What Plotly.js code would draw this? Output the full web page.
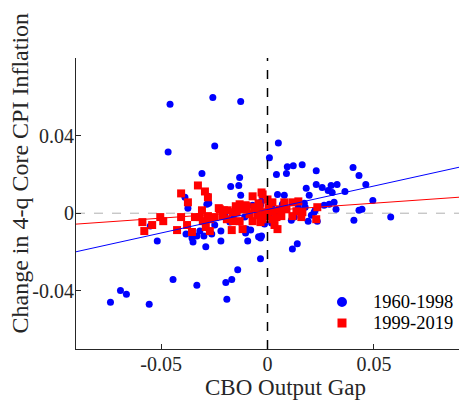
<!DOCTYPE html>
<html>
<head>
<meta charset="utf-8">
<script src="https://cdn.plot.ly/plotly-3.0.1.min.js"></script>
<style>html,body{margin:0;padding:0;background:#fff;}#chart{width:459px;height:400px;}</style>
</head>
<body>
<div id="chart"></div>
<script>
// 1960-1998: output gap (x) and change in 4-q core CPI inflation (y)
var gapEarly = [-0.0458,-0.0257,-0.0126,-0.0467,-0.0248,-0.0308,-0.0131,-0.0173,-0.0135,-0.0126,
  -0.0388,-0.0280,-0.0276,-0.0374,0.0009,0.0051,0.0042,0.0047,0.0093,0.0121,
  0.0163,0.0089,0.0229,0.0402,0.0430,0.0079,0.0182,0.0196,0.0229,0.0257,
  0.0299,0.0327,0.0285,0.0304,0.0364,0.0462,0.0495,0.0266,0.0290,0.0313,
  0.0322,0.0430,0.0444,0.0177,0.0206,0.0224,-0.0028,0.0406,0.0579,0.0117,
  0.0140,-0.0033,-0.0033,0.0191,0.0234,0.0112,0.0126,-0.0518,-0.0551,-0.0444,
  -0.0691,-0.0663,-0.0738,-0.0556,-0.0332,-0.0191,-0.0196,-0.0168,-0.0140,-0.0290,
  -0.0350,-0.0355,-0.0383,-0.0332,-0.0299,-0.0262,-0.0219,-0.0219,-0.0093,-0.0103,
  -0.0079,-0.0070,-0.0177,-0.0131,-0.0318,-0.0285,-0.0033,0.0042,-0.0098,-0.0042,
  -0.0163,0.0019,0.0145,0.0219,0.0019,0.0009,-0.0028,0.0173,-0.0201,-0.0107,
  0.0070,-0.0014,-0.0248];
var inflEarly = [0.0561,0.0597,0.0576,0.0316,0.0347,0.0204,0.0184,0.0138,0.0143,0.0092,
  0.0082,0.0087,0.0051,0.0026,0.0286,0.0362,0.0199,0.0097,0.0240,0.0245,
  0.0250,0.0204,0.0219,0.0235,0.0194,0.0092,0.0128,0.0092,0.0148,0.0133,
  0.0143,0.0148,0.0117,0.0107,0.0112,0.0148,0.0066,0.0041,0.0046,0.0056,
  0.0020,0.0015,0.0020,0.0031,-0.0010,0.0015,0.0061,-0.0036,-0.0020,-0.0184,
  -0.0158,-0.0235,-0.0128,-0.0041,-0.0041,-0.0036,-0.0020,-0.0143,-0.0066,-0.0342,
  -0.0398,-0.0418,-0.0459,-0.0469,-0.0372,-0.0444,-0.0357,-0.0342,-0.0291,-0.0173,
  -0.0148,-0.0128,-0.0107,-0.0117,-0.0117,-0.0107,-0.0092,-0.0143,-0.0143,-0.0102,
  -0.0087,0.0041,-0.0046,-0.0046,-0.0092,0.0046,0.0041,0.0000,-0.0082,-0.0122,
  -0.0031,0.0036,0.0031,0.0005,-0.0051,-0.0005,-0.0117,0.0051,-0.0005,-0.0020,
  0.0046,-0.0056,-0.0061];

// 1999-2019
var gapLate = [-0.0588,-0.0579,-0.0542,-0.0504,-0.0490,-0.0425,-0.0406,-0.0374,-0.0406,-0.0378,
  -0.0355,-0.0341,-0.0327,-0.0294,-0.0280,-0.0308,-0.0318,-0.0304,-0.0290,-0.0271,
  -0.0280,-0.0248,-0.0224,-0.0205,-0.0210,-0.0191,-0.0168,-0.0145,-0.0121,-0.0117,
  -0.0098,-0.0084,-0.0070,-0.0037,-0.0033,-0.0014,0.0023,0.0033,-0.0149,-0.0070,
  -0.0023,0.0000,0.0023,-0.0042,-0.0229,-0.0187,-0.0131,-0.0098,-0.0163,-0.0061,
  0.0023,0.0042,-0.0271,-0.0163,-0.0131,0.0047,0.0079,0.0117,0.0145,0.0234,
  0.0056,0.0089,0.0136,0.0164,0.0000,0.0065,0.0117,0.0159,0.0229,-0.0023,
  -0.0028,-0.0103,-0.0047,0.0005];
var inflLate = [-0.0046,-0.0092,-0.0061,-0.0020,-0.0041,-0.0087,0.0102,0.0056,-0.0020,-0.0061,
  -0.0097,-0.0020,0.0143,0.0112,0.0082,0.0015,-0.0020,-0.0041,-0.0071,-0.0092,
  -0.0015,-0.0020,0.0020,0.0015,-0.0015,-0.0031,-0.0087,0.0005,0.0020,-0.0082,
  0.0036,-0.0005,-0.0041,0.0031,-0.0046,0.0005,-0.0031,-0.0061,0.0036,0.0087,
  0.0097,0.0071,0.0056,0.0051,0.0026,0.0015,0.0046,0.0020,0.0005,0.0031,
  0.0010,-0.0020,-0.0031,-0.0041,-0.0041,-0.0082,0.0056,0.0056,0.0061,0.0031,
  0.0020,0.0020,0.0010,0.0005,-0.0015,-0.0015,-0.0015,-0.0020,-0.0031,-0.0031,
  0.0107,0.0041,-0.0010,0.0031];

// fitted lines: [intercept, slope]
var fitEarly = [0.0019, 0.242];
var fitLate = [0.0013, 0.077];

var seriesNames = ['1960-1998', '1999-2019'];
var xTitle = 'CBO Output Gap';
var yTitle = 'Change in 4-q Core CPI Inflation';
var xRange = [-0.09, 0.09];
var yRange = [-0.07, 0.08];
var xTicks = [-0.05, 0, 0.05];
var xTickText = ['-0.05', '0', '0.05'];
var yTicks = [-0.04, 0, 0.04];
var yTickText = ['-0.04', '0', '0.04'];

function fitLine(f, color, name) {
  return {
    x: xRange.slice(),
    y: xRange.map(function (v) { return f[0] + f[1] * v; }),
    mode: 'lines', type: 'scatter', showlegend: false, hoverinfo: 'skip', name: name,
    line: {color: color, width: 1}
  };
}

var font = "'Liberation Serif', 'Times New Roman', serif";
var axisColor = '#262626';
var blue = '#0000ff', red = '#ff0000';

var data = [
  {x: gapEarly, y: inflEarly, mode: 'markers', type: 'scatter', name: seriesNames[0], showlegend: false,
   marker: {color: blue, size: 7, symbol: 'circle'}},
  {x: gapLate, y: inflLate, mode: 'markers', type: 'scatter', name: seriesNames[1], showlegend: false,
   marker: {color: red, size: 8, symbol: 'square'}},
  fitLine(fitEarly, blue, 'fit ' + seriesNames[0]),
  fitLine(fitLate, red, 'fit ' + seriesNames[1])
];

// legend (drawn as key shapes + text annotations)
var legX = 0.6945, legTextX = 0.7702, legY = [0.1615, 0.0893];

var layout = {
  width: 459, height: 400,
  margin: {l: 76, r: 0, t: 58, b: 51, pad: 0},
  paper_bgcolor: '#fff', plot_bgcolor: '#fff',
  font: {family: font, size: 19, color: axisColor},
  showlegend: false,
  xaxis: {
    range: xRange, tickmode: 'array', tickvals: xTicks, ticktext: xTickText,
    ticks: 'inside', ticklen: 5, tickcolor: axisColor, showline: true, linecolor: axisColor, linewidth: 1,
    showgrid: false, zeroline: false, mirror: false, ticklabelstandoff: -3,
    tickfont: {family: font, size: 20, color: axisColor}
  },
  yaxis: {
    range: yRange, tickmode: 'array', tickvals: yTicks, ticktext: yTickText,
    ticks: 'inside', ticklen: 5, tickcolor: axisColor, showline: true, linecolor: axisColor, linewidth: 1,
    showgrid: false, zeroline: false, mirror: false, ticklabelstandoff: -3,
    tickfont: {family: font, size: 20, color: axisColor}
  },
  annotations: [
    {text: xTitle, xref: 'paper', yref: 'paper', x: 0.5457, y: 0, yshift: -38,
     xanchor: 'center', yanchor: 'middle', showarrow: false,
     font: {family: font, size: 23, color: axisColor}},
    {text: yTitle, xref: 'paper', yref: 'paper', x: 0, xshift: -56, y: 0.603,
     xanchor: 'center', yanchor: 'middle', showarrow: false, textangle: -90,
     font: {family: font, size: 24, color: axisColor}},
    {text: seriesNames[0], xref: 'paper', yref: 'paper', x: legTextX, y: legY[0],
     xanchor: 'left', yanchor: 'middle', showarrow: false, font: {family: font, size: 18.5, color: '#000'}},
    {text: seriesNames[1], xref: 'paper', yref: 'paper', x: legTextX, y: legY[1],
     xanchor: 'left', yanchor: 'middle', showarrow: false, font: {family: font, size: 18.5, color: '#000'}}
  ],
  shapes: [
    {type: 'line', xref: 'paper', yref: 'y', x0: 0, x1: 1, y0: 0, y1: 0,
     line: {color: '#b0b0b0', width: 1, dash: 'dash'}, layer: 'below'},
    {type: 'line', xref: 'x', yref: 'paper', x0: 0, x1: 0, y0: 0, y1: 1,
     line: {color: '#000', width: 1.5, dash: 'dash'}, layer: 'above'},
    {type: 'circle', xref: 'paper', yref: 'paper', xsizemode: 'pixel', ysizemode: 'pixel',
     xanchor: legX, yanchor: legY[0], x0: -5, x1: 5, y0: -5, y1: 5,
     fillcolor: blue, line: {width: 0}},
    {type: 'rect', xref: 'paper', yref: 'paper', xsizemode: 'pixel', ysizemode: 'pixel',
     xanchor: legX, yanchor: legY[1], x0: -4.5, x1: 4.5, y0: -4.5, y1: 4.5,
     fillcolor: red, line: {width: 0}}
  ]
};

Plotly.newPlot('chart', data, layout, {displayModeBar: false, staticPlot: true});
</script>
</body>
</html>
